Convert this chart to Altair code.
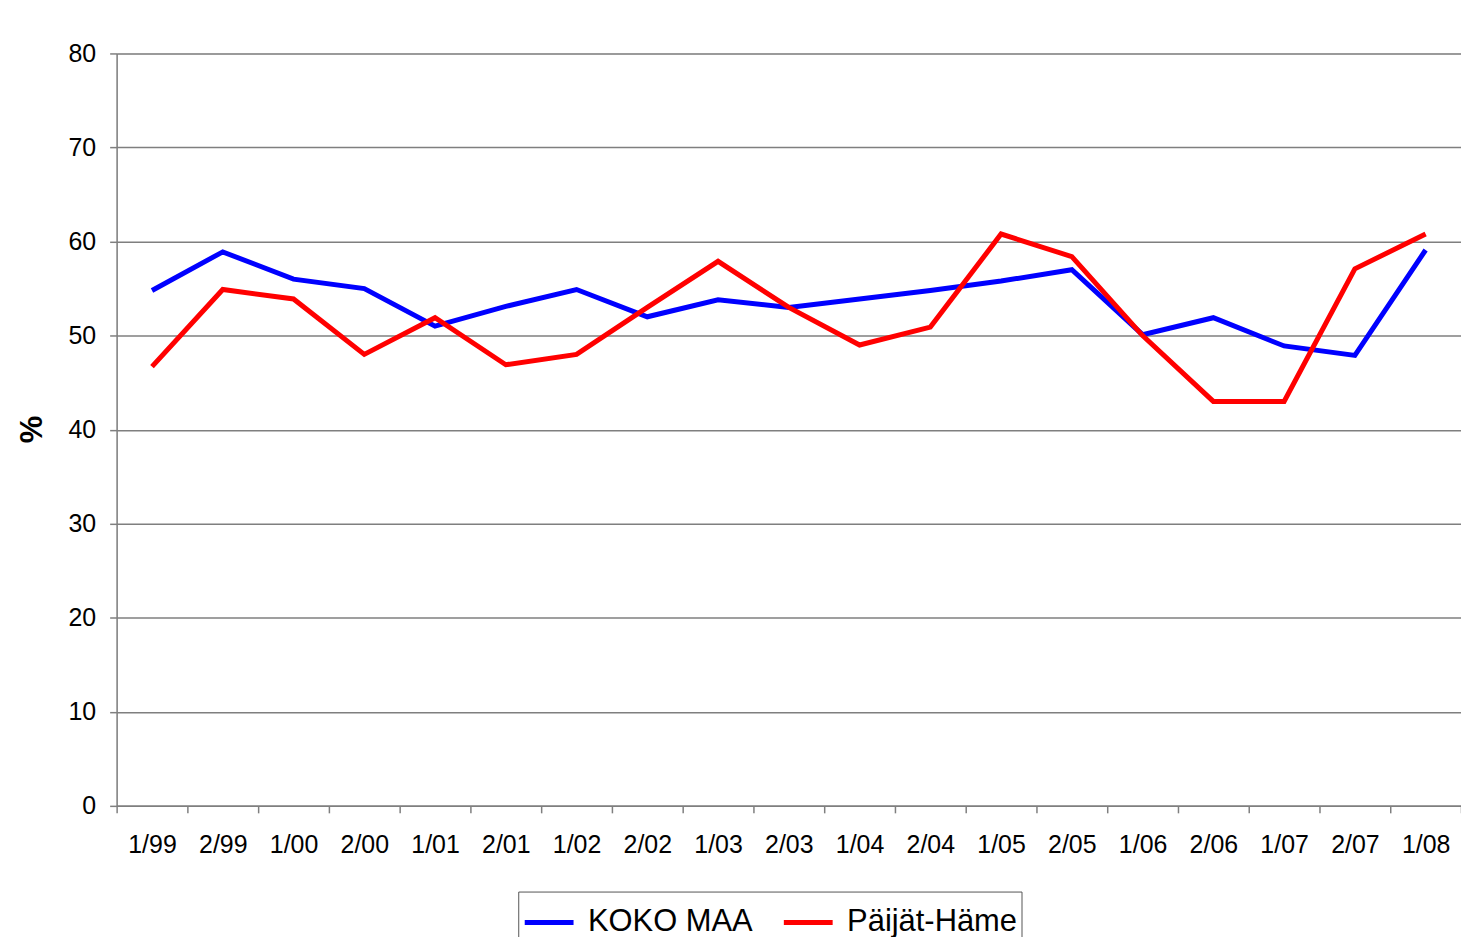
import altair as alt
import pandas as pd

periods = ["1/99", "2/99", "1/00", "2/00", "1/01", "2/01", "1/02", "2/02", "1/03", "2/03",
           "1/04", "2/04", "1/05", "2/05", "1/06", "2/06", "1/07", "2/07", "1/08"]
koko_maa = [54.8, 58.9, 56.0, 55.0, 51.0, 53.1, 54.9, 52.0, 53.8, 53.0,
            53.9, 54.8, 55.8, 57.0, 50.1, 51.9, 48.9, 47.9, 59.1]
paijat_hame = [46.7, 54.9, 53.9, 48.0, 51.9, 46.9, 48.0, 53.0, 57.9, 53.0,
               49.0, 50.9, 60.8, 58.4, 50.0, 43.0, 43.0, 57.1, 60.8]
series_names = ["KOKO MAA", "Päijät-Häme"]
series_colors = ["#0000ff", "#ff0000"]

rows = []
for name, vals in zip(series_names, [koko_maa, paijat_hame]):
    for i, (p, v) in enumerate(zip(periods, vals)):
        rows.append({"period": p, "value": v, "series": name, "order": i})
df = pd.DataFrame(rows)

FONT = "Liberation Sans"

chart = alt.Chart(df).mark_line(strokeWidth=5, strokeJoin="miter").encode(
    x=alt.X("period:N", sort=periods, title=None,
            scale=alt.Scale(paddingInner=0, paddingOuter=0),
            axis=alt.Axis(labelAngle=0, tickBand="extent", tickSize=7,
                          labelPadding=20, labelFontSize=25, labelFont=FONT,
                          labelColor="#000000", domainColor="#7f7f7f",
                          tickColor="#7f7f7f", domainWidth=1.5, tickWidth=1.5,
                          grid=False)),
    y=alt.Y("value:Q", title="%",
            scale=alt.Scale(domain=[0, 80], nice=False, zero=True),
            axis=alt.Axis(values=[0, 10, 20, 30, 40, 50, 60, 70, 80],
                          tickSize=7, labelPadding=14, labelFontSize=25,
                          labelFont=FONT, labelColor="#000000",
                          domainColor="#7f7f7f", tickColor="#7f7f7f",
                          domainWidth=1.5, tickWidth=1.5,
                          grid=True, gridColor="#7f7f7f", gridWidth=1.5,
                          titleFont=FONT, titleFontSize=31, titleFontWeight="bold",
                          titleColor="#000000", titleAngle=-90,
                          titleX=-84, titleY=377, titleAlign="center",
                          titleBaseline="middle")),
    color=alt.Color("series:N", title=None,
                    scale=alt.Scale(domain=series_names, range=series_colors),
                    legend=alt.Legend(orient="none", legendX=403, legendY=841,
                                      direction="horizontal",
                                      symbolType="stroke", symbolSize=2400,
                                      symbolStrokeWidth=5,
                                      labelFont=FONT, labelFontSize=31,
                                      labelLimit=500,
                                      labelColor="#000000", labelOffset=12,
                                      columnPadding=20, padding=4,
                                      strokeColor="#555555",
                                      fillColor="#ffffff")),
    order="order:Q",
).properties(
    width=1349, height=755,
    autosize=alt.AutoSizeParams(type="none"),
    padding={"left": 109, "top": 44, "right": 0, "bottom": 130},
).configure_view(stroke=None).configure(background="#ffffff")

chart.save("out.html", embed_options={"renderer": "svg", "actions": False})
